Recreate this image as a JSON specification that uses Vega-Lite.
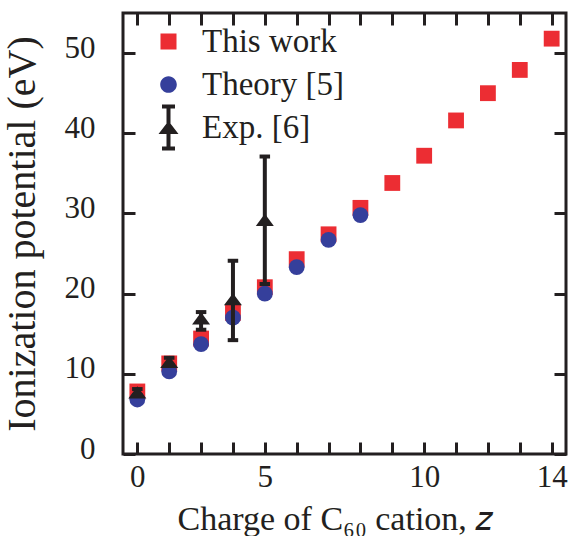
{
  "$schema": "https://vega.github.io/schema/vega-lite/v6.json",
  "width": 443,
  "height": 441,
  "autosize": {"type": "none"},
  "padding": {"left": 123, "top": 13, "right": 5, "bottom": 82},
  "background": "white",
  "config": {
    "view": {"stroke": "#231f20", "strokeWidth": 3},
    "font": "Liberation Serif",
    "axis": {
      "grid": false, "domain": false,
      "tickSize": -12, "tickWidth": 3, "tickColor": "#231f20",
      "labelFont": "Liberation Serif", "labelFontSize": 31, "labelColor": "#231f20",
      "titleFont": "Liberation Serif", "titleFontSize": 34, "titleFontWeight": "normal", "titleColor": "#231f20"
    }
  },
  "datasets": {
    "ip": [
      {"z": 1, "series": "This work", "ip": 7.8},
      {"z": 2, "series": "This work", "ip": 11.3},
      {"z": 3, "series": "This work", "ip": 14.4},
      {"z": 4, "series": "This work", "ip": 17.6},
      {"z": 5, "series": "This work", "ip": 20.8},
      {"z": 6, "series": "This work", "ip": 24.3},
      {"z": 7, "series": "This work", "ip": 27.4},
      {"z": 8, "series": "This work", "ip": 30.7},
      {"z": 9, "series": "This work", "ip": 33.8},
      {"z": 10, "series": "This work", "ip": 37.2},
      {"z": 11, "series": "This work", "ip": 41.6},
      {"z": 12, "series": "This work", "ip": 45.0},
      {"z": 13, "series": "This work", "ip": 47.9},
      {"z": 14, "series": "This work", "ip": 51.8},
      {"z": 1, "series": "Theory [5]", "ip": 6.8},
      {"z": 2, "series": "Theory [5]", "ip": 10.3},
      {"z": 3, "series": "Theory [5]", "ip": 13.7},
      {"z": 4, "series": "Theory [5]", "ip": 17.0},
      {"z": 5, "series": "Theory [5]", "ip": 20.0},
      {"z": 6, "series": "Theory [5]", "ip": 23.3},
      {"z": 7, "series": "Theory [5]", "ip": 26.7},
      {"z": 8, "series": "Theory [5]", "ip": 29.8},
      {"z": 1, "series": "Exp. [6]", "ip": 7.7, "lo": 7.3, "hi": 8.1},
      {"z": 2, "series": "Exp. [6]", "ip": 11.5, "lo": 11.0, "hi": 12.0},
      {"z": 3, "series": "Exp. [6]", "ip": 16.9, "lo": 15.5, "hi": 17.7},
      {"z": 4, "series": "Exp. [6]", "ip": 19.3, "lo": 14.2, "hi": 24.1},
      {"z": 5, "series": "Exp. [6]", "ip": 29.2, "lo": 21.2, "hi": 37.1}
    ]
  },
  "data": {"name": "ip"},
  "resolve": {
    "axis": {"x": "independent", "y": "independent"},
    "scale": {"color": "independent", "shape": "independent"},
    "legend": {"color": "independent", "shape": "independent"}
  },
  "layer": [
    {
      "transform": [{"filter": "datum.series !== 'Exp. [6]'"}],
      "mark": {"type": "point", "filled": true, "opacity": 1, "size": 250, "strokeWidth": 0},
      "encoding": {
        "x": {"field": "z", "type": "quantitative", "scale": {"domain": [0.55, 14.45], "nice": false, "zero": false}, "axis": null},
        "y": {"field": "ip", "type": "quantitative", "scale": {"domain": [0, 55], "nice": false}, "axis": null},
        "color": {"field": "series", "type": "nominal", "legend": null,
          "scale": {"domain": ["This work", "Theory [5]", "Exp. [6]"], "range": ["#ec2d33", "#353f9b", "#231f20"]}},
        "shape": {"field": "series", "type": "nominal", "legend": null,
          "scale": {"domain": ["This work", "Theory [5]", "Exp. [6]"], "range": ["square", "circle", "M0,-0.68L1,0.68L-1,0.68Z"]}}
      }
    },
    {
      "transform": [{"filter": "datum.series === 'Exp. [6]'"}],
      "mark": {"type": "rule", "strokeWidth": 4, "color": "#231f20"},
      "encoding": {
        "x": {"field": "z", "type": "quantitative", "scale": {"domain": [0.55, 14.45], "nice": false, "zero": false},
          "axis": {"orient": "bottom", "values": [1,2,3,4,5,6,7,8,9,10,11,12,13,14],
            "labelExpr": "datum.value == 1 ? '0' : (datum.value == 5 || datum.value == 10 || datum.value == 14) ? datum.label : ''",
            "labelPadding": 20, "title": "Charge of C₆₀ cation, 𝑧", "titleAlign": "left", "titleX": 54, "titlePadding": 10}},
        "y": {"field": "lo", "type": "quantitative", "scale": {"domain": [0, 55], "nice": false},
          "axis": {"orient": "left", "values": [0, 10, 20, 30, 40, 50], "labelPadding": 40, "labelOffset": -5,
            "title": "Ionization potential (eV)", "titleFontSize": 40, "titlePadding": 22}},
        "y2": {"field": "hi"}
      }
    },
    {
      "transform": [{"filter": "datum.series === 'Exp. [6]'"}, {"fold": ["lo", "hi"], "as": ["end", "v"]}],
      "mark": {"type": "point", "shape": "M-1,0H1", "filled": false, "size": 110, "stroke": "#231f20", "strokeWidth": 4, "opacity": 1},
      "encoding": {
        "x": {"field": "z", "type": "quantitative", "scale": {"domain": [0.55, 14.45], "nice": false, "zero": false},
          "axis": {"orient": "top", "values": [1,2,3,4,5,6,7,8,9,10,11,12,13,14], "labels": false, "title": null}},
        "y": {"field": "v", "type": "quantitative", "scale": {"domain": [0, 55], "nice": false},
          "axis": {"orient": "right", "values": [0, 10, 20, 30, 40, 50], "labels": false, "title": null}}
      }
    },
    {
      "transform": [{"filter": "datum.series === 'Exp. [6]'"}],
      "mark": {"type": "point", "filled": true, "opacity": 1, "size": 324, "strokeWidth": 0},
      "encoding": {
        "x": {"field": "z", "type": "quantitative", "scale": {"domain": [0.55, 14.45], "nice": false, "zero": false}, "axis": null},
        "y": {"field": "ip", "type": "quantitative", "scale": {"domain": [0, 55], "nice": false}, "axis": null},
        "color": {"field": "series", "type": "nominal", "legend": null,
          "scale": {"domain": ["This work", "Theory [5]", "Exp. [6]"], "range": ["#ec2d33", "#353f9b", "#231f20"]}},
        "shape": {"field": "series", "type": "nominal", "legend": null,
          "scale": {"domain": ["This work", "Theory [5]", "Exp. [6]"], "range": ["square", "circle", "M0,-0.68L1,0.68L-1,0.68Z"]}}
      }
    },
    {
      "transform": [{"filter": "false"}],
      "mark": {"type": "point", "filled": true, "opacity": 1, "size": 400, "strokeWidth": 0},
      "encoding": {
        "x": {"field": "z", "type": "quantitative", "scale": {"domain": [0.55, 14.45], "nice": false, "zero": false}, "axis": null},
        "y": {"field": "ip", "type": "quantitative", "scale": {"domain": [0, 55], "nice": false}, "axis": null},
        "color": {"field": "series", "type": "nominal",
          "scale": {"domain": ["This work", "Theory [5]", "Exp. [6]"], "range": ["#ec2d33", "#353f9b", "#231f20"]},
          "legend": {"orient": "none", "legendX": 29, "legendY": 12, "title": null,
            "labelFont": "Liberation Serif", "labelFontSize": 33, "labelColor": "#231f20",
            "symbolSize": 400, "labelOffset": 17, "rowPadding": -4, "padding": 0, "symbolStrokeWidth": 0}},
        "shape": {"field": "series", "type": "nominal",
          "scale": {"domain": ["This work", "Theory [5]", "Exp. [6]"], "range": [
            "M0,-2.3Z M0,2.3Z M-0.8,-0.8H0.8V0.8H-0.8Z",
            "M0,-2.3Z M0,2.3Z M-0.83,0A0.83,0.83 0 1,0 0.83,0A0.83,0.83 0 1,0 -0.83,0Z",
            "M-0.2,-2.25H0.2V2.25H-0.2Z M-0.65,-2.3H0.65V-1.9H-0.65Z M-0.65,1.9H0.65V2.3H-0.65Z M0,-0.65L1,0.65H-1Z"]},
          "legend": {"orient": "none", "legendX": 29, "legendY": 12, "title": null,
            "labelFont": "Liberation Serif", "labelFontSize": 33, "labelColor": "#231f20",
            "symbolSize": 400, "labelOffset": 17, "rowPadding": -4, "padding": 0, "symbolStrokeWidth": 0}}
      }
    }
  ]
}
